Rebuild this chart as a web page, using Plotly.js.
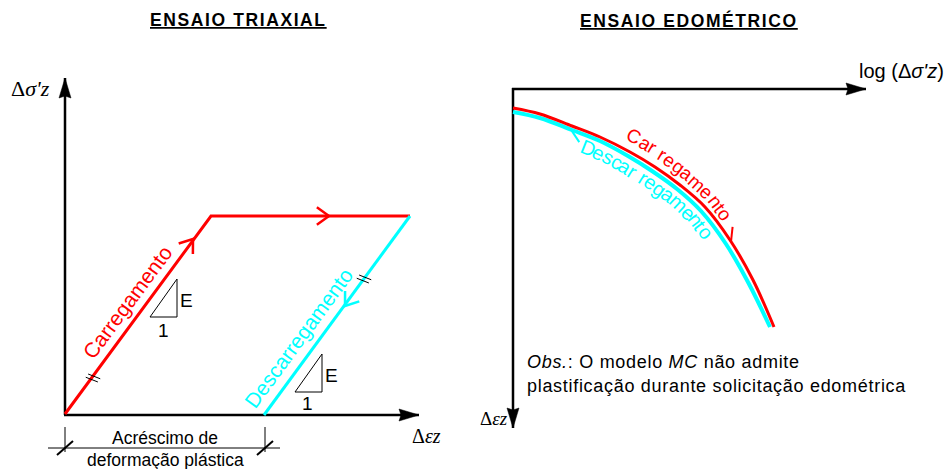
<!DOCTYPE html>
<html><head><meta charset="utf-8">
<script src="https://cdn.plot.ly/plotly-3.0.1.min.js"></script>
<style>html,body{margin:0;padding:0;background:#fff}#chart{width:951px;height:469px}</style>
</head><body><div id="chart"></div>
<script>
// ---------- Schematic data (drawing units = canvas pixels) ----------
// ENSAIO TRIAXIAL
const triaxLoadX   = [65, 211, 410];
const triaxLoadY   = [414, 216, 216];
const triaxUnloadX = [410, 264];
const triaxUnloadY = [216, 415];
const triaxYAxisX  = [65, 65];
const triaxYAxisY  = [415, 78];
const triaxXAxisX  = [64, 419];
const triaxXAxisY  = [415, 415];
const slope1X = [150, 177, 177, 150];
const slope1Y = [317, 317, 279, 317];
const slope2X = [295, 322, 322, 295];
const slope2Y = [392, 392, 354, 392];
const dimLineX = [48, 280];
const dimLineY = [448, 448];
const dimTickX = [65, 265];
const dimTickY = [427, 452];

// ENSAIO EDOMETRICO
const edoXAxisX = [512, 866];
const edoXAxisY = [89, 89];
const edoYAxisX = [513, 513];
const edoYAxisY = [88, 428];
const edoLoadX   = [513, 540, 572, 600, 630, 655, 680, 705, 730, 753, 774];
const edoLoadY   = [108, 114, 126, 137, 152, 167, 185, 207, 240, 280, 327];
const edoUnloadX = [513, 540, 572, 600, 628, 652, 677, 701, 726, 749, 770];
const edoUnloadY = [112, 118, 130, 141, 156, 171, 189, 211, 244, 284, 327];

// Labels
const titles = ['ENSAIO TRIAXIAL', 'ENSAIO EDOMÉTRICO'];
const loadLabel = 'Carregamento';
const unloadLabel = 'Descarregamento';
const loadLabelCurved = 'Car regamento';
const unloadLabelCurved = 'Descar regamento';
const dimLabel = ['Acréscimo de', 'deformação plástica'];
const obsLines = ['<i>Obs.</i>: O modelo <i>MC</i> não admite', 'plastificação durante solicitação edométrica'];

const RED = '#ff0000', CYAN = '#00ffff', BLACK = '#000000';
const SANS = 'Arial, "Liberation Sans", sans-serif';
const SERIF = '"Liberation Serif", "Times New Roman", serif';

const traces = [];
function line(xs, ys, color, width, shape) {
  traces.push({x: xs, y: ys, mode: 'lines', hoverinfo: 'skip', showlegend: false,
    line: {color: color, width: width, shape: shape || 'linear', smoothing: 1}});
}
function arrowHead(xs, ys, len, half) {
  const n = xs.length;
  const tx = xs[n-1], ty = ys[n-1];
  let dx = tx - xs[n-2], dy = ty - ys[n-2];
  const L = Math.hypot(dx, dy); dx /= L; dy /= L;
  const bx = tx - dx*len, by = ty - dy*len;
  const nx = -dy, ny = dx;
  traces.push({x: [tx, bx + nx*half, bx + dx*2, bx - nx*half, tx],
               y: [ty, by + ny*half, by + dy*2, by - ny*half, ty],
               mode: 'lines', fill: 'toself', fillcolor: BLACK, hoverinfo: 'skip', showlegend: false,
               line: {color: BLACK, width: 0.5}});
}
function chevron(tipX, tipY, dirX, dirY, len, angDeg, color, width, which) {
  const L = Math.hypot(dirX, dirY);
  const bx = -dirX / L, by = -dirY / L;
  const a = angDeg * Math.PI / 180;
  const r = (s) => [bx*Math.cos(s*a) - by*Math.sin(s*a), bx*Math.sin(s*a) + by*Math.cos(s*a)];
  const p = r(1), q = r(-1);
  let xs, ys;
  if (which === 1) { xs = [tipX + p[0]*len, tipX]; ys = [tipY + p[1]*len, tipY]; }
  else if (which === -1) { xs = [tipX + q[0]*len, tipX]; ys = [tipY + q[1]*len, tipY]; }
  else { xs = [tipX + p[0]*len, tipX, tipX + q[0]*len]; ys = [tipY + p[1]*len, tipY, tipY + q[1]*len]; }
  line(xs, ys, color, width);
}
function hash(cx, cy, dirX, dirY, len, gap, angDeg) {
  const L = Math.hypot(dirX, dirY);
  const ux = dirX / L, uy = dirY / L;
  const a = angDeg * Math.PI / 180;
  const hx = ux*Math.cos(a) - uy*Math.sin(a), hy = ux*Math.sin(a) + uy*Math.cos(a);
  for (const k of [-1, 1]) {
    const ox = cx + ux*gap*k/2, oy = cy + uy*gap*k/2;
    line([ox - hx*len/2, ox + hx*len/2], [oy - hy*len/2, oy + hy*len/2], BLACK, 1);
  }
}

// ---- Triaxial ----
line(triaxYAxisX, triaxYAxisY, BLACK, 2.5);
line(triaxXAxisX, triaxXAxisY, BLACK, 2.5);
arrowHead(triaxYAxisX, triaxYAxisY, 20, 6);
arrowHead(triaxXAxisX, triaxXAxisY, 20, 6);
line(triaxLoadX, triaxLoadY, RED, 3);
line(triaxUnloadX, triaxUnloadY, CYAN, 3);
line(slope1X, slope1Y, BLACK, 1);
line(slope2X, slope2Y, BLACK, 1);
chevron(193, 239, triaxLoadX[1]-triaxLoadX[0], triaxLoadY[1]-triaxLoadY[0], 15, 36, RED, 2.5);
chevron(329, 216, 1, 0, 15, 36, RED, 2.5);
chevron(345, 306, triaxUnloadX[1]-triaxUnloadX[0], triaxUnloadY[1]-triaxUnloadY[0], 15, 36, CYAN, 2.5);
hash(93, 378, triaxLoadX[1]-triaxLoadX[0], triaxLoadY[1]-triaxLoadY[0], 13, 4, 75);
hash(364, 279, triaxUnloadX[0]-triaxUnloadX[1], triaxUnloadY[0]-triaxUnloadY[1], 13, 4, 75);
line(dimLineX, dimLineY, BLACK, 1);
for (const dx of dimTickX) {
  line([dx, dx], dimTickY, BLACK, 1);
  line([dx - 8, dx + 8], [dimLineY[0] + 7, dimLineY[0] - 7], BLACK, 2);
}

// ---- Edometrico ----
line(edoXAxisX, edoXAxisY, BLACK, 2.5);
line(edoYAxisX, edoYAxisY, BLACK, 2.5);
arrowHead(edoXAxisX, edoXAxisY, 20, 6);
arrowHead(edoYAxisX, edoYAxisY, 20, 6);
line(edoUnloadX, edoUnloadY, CYAN, 4, 'spline');
line(edoLoadX, edoLoadY, RED, 3, 'spline');

function curve(xs, ys) {
  const s = [0];
  for (let i = 1; i < xs.length; i++) s.push(s[i-1] + Math.hypot(xs[i]-xs[i-1], ys[i]-ys[i-1]));
  return {xs, ys, s};
}
function atS(c, sv) {
  let i = 1;
  while (i < c.s.length - 1 && c.s[i] < sv) i++;
  const t = (sv - c.s[i-1]) / (c.s[i] - c.s[i-1]);
  const dx = c.xs[i]-c.xs[i-1], dy = c.ys[i]-c.ys[i-1], L = Math.hypot(dx, dy);
  return {x: c.xs[i-1] + dx*t, y: c.ys[i-1] + dy*t, tx: dx/L, ty: dy/L};
}
function sAtX(c, xv) {
  for (let i = 1; i < c.xs.length; i++) if (c.xs[i] >= xv) {
    const t = (xv - c.xs[i-1]) / (c.xs[i] - c.xs[i-1]);
    return c.s[i-1] + t*(c.s[i]-c.s[i-1]);
  }
  return c.s[c.s.length-1];
}
const redC = curve(edoLoadX, edoLoadY), cyC = curve(edoUnloadX, edoUnloadY);
(function () {
  const p = atS(redC, sAtX(redC, 731));
  chevron(p.x, p.y, p.tx, p.ty, 15, 36, RED, 2, 1);
  const q = atS(cyC, sAtX(cyC, 571));
  chevron(q.x, q.y, -q.tx, -q.ty, 15, 36, CYAN, 2, 1);
})();

const ctx = document.createElement('canvas').getContext('2d');
function textAlong(c, text, footX, off1, off2, size, color, side) {
  ctx.font = size + 'px "Liberation Sans", Arial';
  const chars = Array.from(text);
  let s = sAtX(c, footX) - ctx.measureText(chars[0]).width / 2;
  const out = [];
  chars.forEach((ch, k) => {
    const w = ctx.measureText(ch).width;
    if (ch !== ' ') {
      const offset = off1 + (off2 - off1) * k / (chars.length - 1);
      const p = atS(c, s + w/2);
      const nx = side*p.ty, ny = -side*p.tx;
      out.push({x: p.x + nx*offset, y: p.y + ny*offset, xref: 'x', yref: 'y', text: ch, showarrow: false,
        textangle: Math.atan2(p.ty, p.tx)*180/Math.PI, font: {family: SANS, size: size, color: color},
        xanchor: 'center', yanchor: 'middle'});
    }
    s += w;
  });
  return out;
}

function ann(x, y, text, size, opts) {
  return Object.assign({x, y, xref: 'x', yref: 'y', text, showarrow: false,
    font: {family: SANS, size: size, color: BLACK}, xanchor: 'center', yanchor: 'middle'}, opts || {});
}
const sp = (t, px) => '<span style="letter-spacing:' + px + 'px">' + t + '</span>';

const annotations = [
  ann(238, 20, sp('<b><u>' + titles[0] + '</u></b>', 1.6), 17.5),
  ann(689, 20, sp('<b><u>' + titles[1] + '</u></b>', 1.6), 17.5),
  ann(30, 88, 'Δ<i>σ\'z</i>', 22, {font: {family: SERIF, size: 22, color: BLACK}}),
  ann(426, 436, 'Δ<i>εz</i>', 20, {font: {family: SERIF, size: 20, color: BLACK}}),
  ann(901, 71, 'log (Δ<i>σ\'z</i>)', 20),
  ann(494, 418, 'Δ<i>εz</i>', 19, {font: {family: SERIF, size: 19, color: BLACK}}),
  ann(127, 302, loadLabel, 21, {textangle: -53.5, font: {family: SANS, size: 21, color: RED}}),
  ann(298, 338, unloadLabel, 21, {textangle: -53.7, font: {family: SANS, size: 21, color: CYAN}}),
  ann(186, 300, 'E', 19), ann(163, 330, '1', 19),
  ann(331, 375, 'E', 19), ann(307, 403, '1', 19),
  ann(165, 438, dimLabel[0], 17.5),
  ann(165, 460, dimLabel[1], 17.5),
  ann(525, 362, sp(obsLines[0], 0.7), 18, {xanchor: 'left'}),
  ann(525, 386, sp(obsLines[1], 0.7), 18, {xanchor: 'left'})
].concat(
  textAlong(redC, loadLabelCurved, 627, 16, 11, 19, RED, 1),
  textAlong(cyC, unloadLabelCurved, 592, 11, 9.5, 20, CYAN, -1)
);

const layout = {
  width: 951, height: 469,
  margin: {l: 0, r: 0, t: 0, b: 0, pad: 0},
  paper_bgcolor: '#ffffff', plot_bgcolor: '#ffffff',
  xaxis: {range: [0, 951], visible: false, fixedrange: true},
  yaxis: {range: [469, 0], visible: false, fixedrange: true},
  showlegend: false,
  annotations: annotations
};
Plotly.newPlot('chart', traces, layout, {staticPlot: true, displayModeBar: false});
</script>
</body></html>
